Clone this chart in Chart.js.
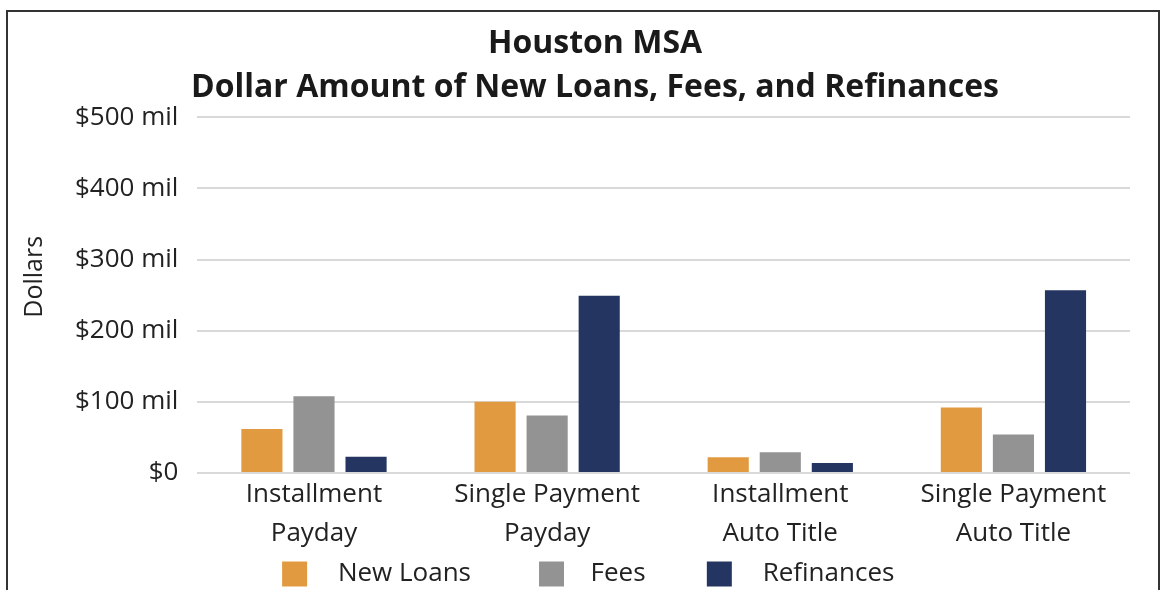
<!DOCTYPE html>
<html lang="en">
<head>
    <meta charset="UTF-8">
    <title>Houston MSA - Dollar Amount of New Loans, Fees, and Refinances</title>
    <script src="https://cdn.jsdelivr.net/npm/chart.js"></script>
    <style>
        html, body {
            margin: 0;
            background: white;
            overflow: hidden;
            font-family: "Open Sans", sans-serif;
        }
        #frame {
            position: absolute;
            left: 6px;
            top: 10px;
            width: 1150px;
            height: 600px;
            border: 2px solid #333;
        }
        #wrap {
            position: absolute;
            left: 0;
            top: 0;
            width: 1162px;
            height: 597px;
        }
    </style>
</head>
<body>

<div id="frame"></div>
<div id="wrap">
    <canvas id="loanChart"></canvas>
</div>

<script>
    // values in millions of dollars
    const categories = [
        ['Installment', 'Payday'],
        ['Single Payment', 'Payday'],
        ['Installment', 'Auto Title'],
        ['Single Payment', 'Auto Title']
    ];
    const newLoans = [62, 100, 22, 92];
    const fees = [108, 81, 29, 54];
    const refinances = [23, 249, 14, 257];
    const yTicks = [0, 100, 200, 300, 400, 500];

    const ctx = document.getElementById('loanChart').getContext('2d');
    const loanChart = new Chart(ctx, {
        type: 'bar',
        data: {
            labels: categories,
            datasets: [
                { label: '  \u2009New Loans        ', data: newLoans, backgroundColor: '#e29a40' },
                { label: '  Fees       ', data: fees, backgroundColor: '#939393' },
                { label: '  \u2009Refinances  ', data: refinances, backgroundColor: '#243561' }
            ]
        },
        options: {
            responsive: true,
            maintainAspectRatio: false,
            animation: false,
            layout: {
                padding: { left: 60, right: 32, top: 22, bottom: 0 }
            },
            datasets: {
                bar: {
                    categoryPercentage: 0.67,
                    barPercentage: 0.79
                }
            },
            scales: {
                x: {
                    grid: { display: false },
                    border: { display: false },
                    ticks: {
                        color: '#222',
                        font: { family: 'Open Sans', size: 26, lineHeight: 1.5 },
                        maxRotation: 0,
                        padding: -6
                    }
                },
                y: {
                    min: 0,
                    max: 500,
                    afterBuildTicks: (axis) => {
                        axis.ticks = yTicks.map(v => ({ value: v }));
                    },
                    grid: {
                        color: '#d9d9d9',
                        lineWidth: 2,
                        drawTicks: false
                    },
                    border: { display: false },
                    ticks: {
                        color: '#222',
                        padding: 19,
                        font: { family: 'Open Sans', size: 26 },
                        callback: (v) => v === 0 ? '$0' : '$' + v + ' mil'
                    },
                    title: {
                        display: true,
                        text: '     \u2009Dollars',
                        color: '#222',
                        font: { family: 'Open Sans', size: 25 },
                        padding: { top: -40, bottom: 6 }
                    }
                }
            },
            plugins: {
                title: {
                    display: true,
                    text: ['Houston MSA', 'Dollar Amount of New Loans, Fees, and Refinances'],
                    color: '#1a1a1a',
                    font: { family: 'Open Sans', size: 32, weight: 'bold', lineHeight: 1.38 },
                    padding: { top: 0, bottom: 7 }
                },
                legend: {
                    position: 'bottom',
                    labels: {
                        color: '#222',
                        boxWidth: 25,
                        boxHeight: 25,
                        padding: 14,
                        font: { family: 'Open Sans', size: 26 }
                    }
                },
                tooltip: { enabled: false }
            }
        }
    });
</script>

</body>
</html>
